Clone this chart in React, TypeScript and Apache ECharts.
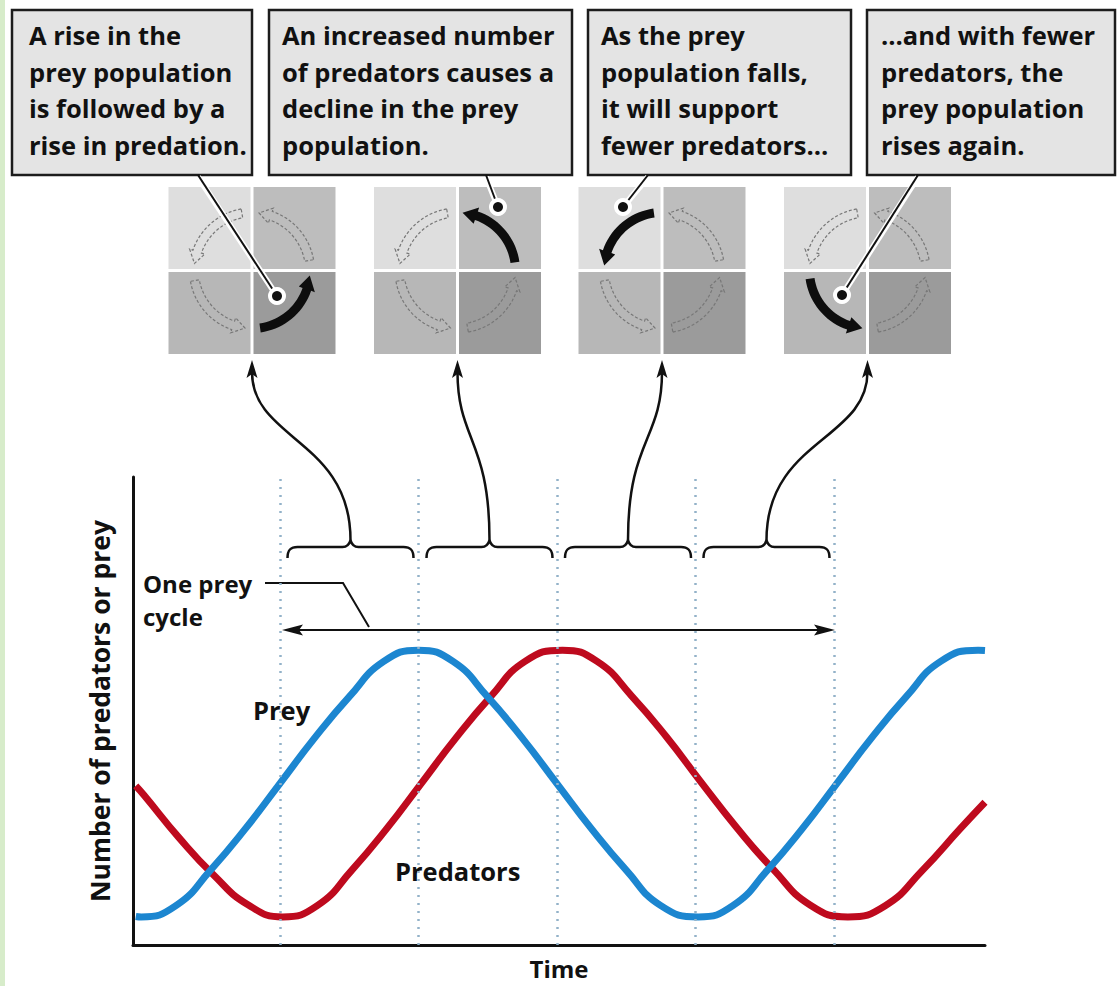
import { useEffect, useRef } from "react";
import * as echarts from "echarts";

// ---------------- data ----------------
const timeRange = [-0.06, 6.09];
const valueRange = [0, 100];
const cycleBoundaries = [1, 2, 3, 4, 5];

const preyTimes = [-0.04, 0, 0.25, 0.5, 0.75, 1, 1.25, 1.5, 1.75, 2, 2.25, 2.5, 2.75, 3, 3.25, 3.5, 3.75, 4.02, 4.27, 4.52, 4.77, 5.02, 5.27, 5.52, 5.77, 6.04, 6.09];
const preyValues = [6.1, 6, 8.4, 16, 24.8, 34.5, 44.2, 53, 60.6, 63, 60.6, 53, 44.2, 34.5, 24.8, 16, 8.4, 6, 8.4, 16, 24.8, 34.5, 44.2, 53, 60.6, 63, 62.95];

const predatorTimes = [-0.04, 0.02, 0.27, 0.52, 0.77, 1.02, 1.27, 1.52, 1.77, 2.02, 2.27, 2.52, 2.77, 3.04, 3.29, 3.54, 3.79, 4.04, 4.3, 4.56, 4.83, 5.1, 5.37, 5.64, 5.91, 6.09];
const predatorValues = [34, 32, 23, 15, 8.6, 6, 8.4, 16, 24.8, 34.5, 44.2, 53, 60.6, 63, 60.6, 53.2, 44.5, 34.8, 25, 16.2, 8.5, 6, 8.4, 16, 24.8, 30.5];

const seriesNames = ["Predators", "Prey"];
const axisTitles = { x: "Time", y: "Number of predators or prey" };
const cycleLabel = ["One prey", "cycle"];

const callouts = [
  ["A rise in the", "prey population", "is followed by a", "rise in predation."],
  ["An increased number", "of predators causes a", "decline in the prey", "population."],
  ["As the prey", "population falls,", "it will support", "fewer predators\u2026"],
  ["\u2026and with fewer", "predators, the", "prey population", "rises again."],
];
const highlightedQuadrant = ["BR", "TR", "TL", "BL"];

// ---------------- layout (pixels) ----------------
const FONT = "Open Sans";
const FS = 25.5;
const PREY_COLOR = "#1c86d0";
const PRED_COLOR = "#be0a1e";
const INK = "#111111";

const boxes = [
  { x: 12, y: 10, w: 240, h: 165, tx: 29 },
  { x: 269, y: 10, w: 303, h: 165, tx: 282 },
  { x: 588, y: 10, w: 263, h: 165, tx: 601 },
  { x: 867, y: 10, w: 248, h: 165, tx: 881 },
];
const quadCenters = [252, 457.5, 662, 867.5];
const quadCY = 270.5;
const pointers = [
  [198, 177, 277, 296],
  [486, 177, 498, 207],
  [648, 177, 623, 207],
  [918, 177, 842, 295],
];
const braceLefts = [287.5, 426.5, 565, 703.5];

function arcArrow(cx: number, cy: number, r: number, tailDeg: number, tipDeg: number, bodyHW: number, headHW: number, headDeg: number) {
  const rad = (d: number) => (d * Math.PI) / 180;
  const baseDeg = tipDeg + headDeg;
  const pts: number[][] = [];
  const n = 18;
  for (let i = 0; i <= n; i++) {
    const a = rad(tailDeg + ((baseDeg - tailDeg) * i) / n);
    pts.push([cx + (r + bodyHW) * Math.cos(a), cy + (r + bodyHW) * Math.sin(a)]);
  }
  const b = rad(baseDeg);
  pts.push([cx + (r + headHW) * Math.cos(b), cy + (r + headHW) * Math.sin(b)]);
  const t = rad(tipDeg);
  pts.push([cx + r * Math.cos(t), cy + r * Math.sin(t)]);
  pts.push([cx + (r - headHW) * Math.cos(b), cy + (r - headHW) * Math.sin(b)]);
  for (let i = n; i >= 0; i--) {
    const a = rad(tailDeg + ((baseDeg - tailDeg) * i) / n);
    pts.push([cx + (r - bodyHW) * Math.cos(a), cy + (r - bodyHW) * Math.sin(a)]);
  }
  return pts;
}

let braceRegistered = false;
function registerBrace() {
  if (braceRegistered) return;
  echarts.graphic.registerShape(
    "brace",
    echarts.graphic.extendPath(
      "M0,11 C0,3 3,0 10,0 L55,0 C60,0 62,-3 63,-7 C64,-3 66,0 71,0 L116,0 C123,0 126,3 126,11",
      {}
    )
  );
  braceRegistered = true;
}

function label(text: string, x: number, y: number, size = FS, extraStyle: any = {}) {
  return {
    type: "text",
    x,
    y,
    silent: true,
    style: {
      text,
      fontFamily: FONT,
      fontWeight: "bold",
      fontSize: size,
      fill: INK,
      textAlign: "left",
      textVerticalAlign: "middle",
      ...extraStyle,
    },
  };
}

function buildGraphics() {
  const g: any[] = [];
  g.push({ type: "rect", silent: true, shape: { x: 0, y: 0, width: 5, height: 986 }, style: { fill: "#d7ecca" } });

  // callout boxes
  boxes.forEach((b, i) => {
    g.push({ type: "rect", silent: true, shape: { x: b.x, y: b.y, width: b.w, height: b.h }, style: { fill: "#e4e4e4", stroke: "#1c1c1c", lineWidth: 2.5 } });
    g.push(label(callouts[i].join("\n"), b.tx, 16.5, FS, { lineHeight: 36.7, textVerticalAlign: "top" }));
  });

  // quadrant diagrams
  quadCenters.forEach((cx, i) => {
    const s = 82;
    const gap = 3;
    const cy = quadCY;
    const cells = [
      { k: "TL", x: cx - s - gap / 2, y: cy - s - gap / 2, fill: "#dedede", q: -180 },
      { k: "TR", x: cx + gap / 2, y: cy - s - gap / 2, fill: "#bdbdbd", q: -90 },
      { k: "BL", x: cx - s - gap / 2, y: cy + gap / 2, fill: "#b7b7b7", q: 90 },
      { k: "BR", x: cx + gap / 2, y: cy + gap / 2, fill: "#9b9b9b", q: 0 },
    ];
    cells.forEach((c) => g.push({ type: "rect", silent: true, shape: { x: c.x, y: c.y, width: s, height: s }, style: { fill: c.fill } }));
    cells.forEach((c) => {
      const on = highlightedQuadrant[i] === c.k;
      const pts = on ? arcArrow(cx, cy, 58, c.q + 82, c.q + 5, 4.5, 8.5, 14) : arcArrow(cx, cy, 58, c.q + 80, c.q + 7, 4.5, 8, 12);
      g.push({
        type: "polygon",
        silent: true,
        shape: { points: pts },
        style: on ? { fill: "#0d0d0d" } : { fill: "none", stroke: "#777777", lineWidth: 1.2, lineDash: [3, 2] },
      });
    });
  });

  // pointers from callouts
  pointers.forEach((p) => {
    g.push({ type: "line", silent: true, shape: { x1: p[0], y1: p[1], x2: p[2], y2: p[3] }, style: { stroke: "#ffffff", lineWidth: 6 } });
    g.push({ type: "line", silent: true, shape: { x1: p[0], y1: p[1] - 2, x2: p[2], y2: p[3] }, style: { stroke: INK, lineWidth: 2 } });
    g.push({ type: "circle", silent: true, shape: { cx: p[2], cy: p[3], r: 9 }, style: { fill: "#ffffff" } });
    g.push({ type: "circle", silent: true, shape: { cx: p[2], cy: p[3], r: 5 }, style: { fill: INK } });
  });

  // braces with curved arrows
  braceLefts.forEach((bx, i) => {
    g.push({ type: "brace", silent: true, x: bx, y: 547, style: { fill: "none", stroke: INK, lineWidth: 2.5 } });
    const sx = bx + 63;
    const ex = quadCenters[i];
    g.push({
      type: "bezierCurve",
      silent: true,
      shape: { x1: sx, y1: 540, cpx1: sx, cpy1: 440, cpx2: ex, cpy2: 440, x2: ex, y2: 372 },
      style: { stroke: INK, lineWidth: 2.5, fill: "none" },
    });
    g.push({ type: "polygon", silent: true, shape: { points: [[ex, 360], [ex + 5.5, 378], [ex, 374], [ex - 5.5, 378]] }, style: { fill: INK } });
  });

  // one prey cycle annotation
  g.push({ type: "polyline", silent: true, shape: { points: [[265, 583], [343, 583], [369, 627]] }, style: { stroke: INK, lineWidth: 2, fill: "none" } });
  g.push({ type: "line", silent: true, shape: { x1: 295, y1: 630, x2: 822, y2: 630 }, style: { stroke: INK, lineWidth: 2.2 } });
  g.push({ type: "polygon", silent: true, shape: { points: [[282, 630], [303, 624.5], [299, 630], [303, 635.5]] }, style: { fill: INK } });
  g.push({ type: "polygon", silent: true, shape: { points: [[835, 630], [814, 624.5], [818, 630], [814, 635.5]] }, style: { fill: INK } });
  g.push(label(cycleLabel[0], 143, 583, 24));
  g.push(label(cycleLabel[1], 143, 616, 24));

  // series labels
  g.push(label(seriesNames[1], 253, 710));
  g.push(label(seriesNames[0], 395, 871));
  return g;
}

export default function App() {
  const ref = useRef<HTMLDivElement>(null);
  useEffect(() => {
    if (!ref.current) return;
    registerBrace();
    const chart = echarts.init(ref.current, undefined, { renderer: "svg" });
    const prey = preyTimes.map((t, i) => [t, preyValues[i]]);
    const pred = predatorTimes.map((t, i) => [t, predatorValues[i]]);
    chart.setOption({
      animation: false,
      backgroundColor: "#ffffff",
      textStyle: { fontFamily: FONT },
      grid: { left: 133, top: 477, width: 852, height: 468, containLabel: false },
      xAxis: {
        type: "value",
        min: timeRange[0],
        max: timeRange[1],
        name: axisTitles.x,
        nameLocation: "middle",
        nameGap: 10,
        nameTextStyle: { fontFamily: FONT, fontWeight: "bold", fontSize: 24, lineHeight: 26, color: INK, verticalAlign: "top" },
        axisLine: { show: true, onZero: false, lineStyle: { color: INK, width: 3 } },
        axisTick: { show: false },
        axisLabel: { show: false },
        splitLine: { show: false },
      },
      yAxis: {
        type: "value",
        min: valueRange[0],
        max: valueRange[1],
        name: axisTitles.y,
        nameLocation: "middle",
        nameGap: 20,
        nameRotate: 90,
        nameTextStyle: { fontFamily: FONT, fontWeight: "bold", fontSize: 26.5, color: INK },
        axisLine: { show: true, onZero: false, lineStyle: { color: INK, width: 3 } },
        axisTick: { show: false },
        axisLabel: { show: false },
        splitLine: { show: false },
      },
      series: [
        {
          name: "cycle boundaries",
          type: "line",
          data: [],
          z: 1,
          silent: true,
          markLine: {
            silent: true,
            symbol: ["none", "none"],
            label: { show: false },
            lineStyle: { type: [2, 6], color: "#93b2c9", width: 2.5 },
            data: cycleBoundaries.map((v) => ({ xAxis: v })),
          },
        },
        {
          name: seriesNames[0],
          type: "line",
          data: pred,
          smooth: 0.5,
          symbol: "none",
          z: 3,
          lineStyle: { color: PRED_COLOR, width: 7, cap: "butt" },
        },
        {
          name: seriesNames[1],
          type: "line",
          data: prey,
          smooth: 0.5,
          symbol: "none",
          z: 3,
          lineStyle: { color: PREY_COLOR, width: 7, cap: "butt" },
        },
      ],
      graphic: { elements: buildGraphics() },
    });
    return () => chart.dispose();
  }, []);
  return <div ref={ref} style={{ position: "fixed", left: 0, top: 0, width: 1118, height: 986, background: "#fff" }} />;
}
